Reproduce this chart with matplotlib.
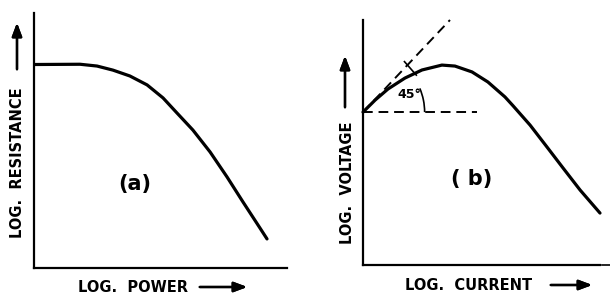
import matplotlib.pyplot as plt
from matplotlib.patches import Arc

# curve (a): log power vs log resistance (axis units 0-10)
pow_x = [0, 1.82, 2.49, 3.12, 3.79, 4.47, 5.1, 5.65, 6.28, 6.96, 7.63, 8.26, 8.93, 9.21]
res_y = [7.98, 7.99, 7.92, 7.76, 7.53, 7.18, 6.67, 6.08, 5.41, 4.55, 3.57, 2.59, 1.57, 1.14]

# curve (b): log current vs log voltage
cur_x = [0, 0.51, 1.05, 1.77, 2.49, 3.33, 3.88, 4.6, 5.27, 5.99, 6.33, 7.05, 7.76, 8.44, 9.16, 10.0]
volt_y = [6.24, 6.73, 7.18, 7.63, 7.96, 8.16, 8.12, 7.88, 7.47, 6.86, 6.5, 5.71, 4.82, 3.96, 3.06, 2.12]

# 45 degree tangent and horizontal reference (dashed)
tan_x = [0, 3.67]
tan_y = [6.24, 10.0]
hor_x = [0, 4.8]
hor_y = [6.24, 6.24]

W, H = 610, 293
fig = plt.figure(figsize=(6.1, 2.93), dpi=100)


def fx(x):
    return x / W


def fy(y):
    return 1 - y / H


def make_ax(l, t, r, b):
    ax = fig.add_axes([fx(l), fy(b), (r - l) / W, (b - t) / H])
    ax.set_xlim(0, 10)
    ax.set_ylim(0, 10)
    for s in ['top', 'right']:
        ax.spines[s].set_visible(False)
    for s in ['left', 'bottom']:
        ax.spines[s].set_linewidth(1.6)
    ax.set_xticks([])
    ax.set_yticks([])
    ax.patch.set_alpha(0)
    return ax


lab = dict(fontsize=10.5, fontweight='bold', color='black')
arr = dict(arrowstyle='-|>,head_length=0.8,head_width=0.3', lw=1.7, color='black')

# ---- (a)
ax1 = make_ax(34, 13, 287, 268)
ax1.plot(pow_x, res_y, color='black', lw=2.3, solid_capstyle='round', solid_joinstyle='round')
ax1.text(4.0, 3.3, '(a)', fontsize=15, fontweight='bold', ha='center', va='center')
fig.text(fx(78), fy(287), 'LOG.  POWER', ha='left', va='center', **lab)
fig.text(fx(18), fy(163), 'LOG.  RESISTANCE', rotation=90, ha='center', va='center', **lab)
fig.add_artist(plt.annotate('', xy=(fx(250), fy(287)), xytext=(fx(197), fy(287)),
                            xycoords='figure fraction', arrowprops=arr))
fig.add_artist(plt.annotate('', xy=(fx(17), fy(20)), xytext=(fx(17), fy(72)),
                            xycoords='figure fraction', arrowprops=arr))

# ---- (b)
ax2 = make_ax(363, 20, 600, 265)
ax2.plot(cur_x, volt_y, color='black', lw=2.3, solid_capstyle='round', solid_joinstyle='round',
         clip_on=False)
ax2.plot(tan_x, tan_y, color='black', lw=1.4, ls=(0, (5, 3)), clip_on=False)
ax2.plot(hor_x, hor_y, color='black', lw=1.4, ls=(0, (5, 3)))
ax2.add_patch(Arc((0, 6.24), 5.2, 5.0, theta1=0, theta2=22, color='black', lw=1.2))
ax2.plot([1.75, 2.25], [8.3, 7.75], color='black', lw=1.2)
ax2.text(1.95, 6.94, '45°', fontsize=9, fontweight='bold', ha='center', va='center')
ax2.text(4.6, 3.5, '( b)', fontsize=15, fontweight='bold', ha='center', va='center')
ax2.plot([10.1, 10.5], [0, 0], color='black', lw=1.2, clip_on=False)
fig.text(fx(405), fy(285), 'LOG.  CURRENT', ha='left', va='center', **lab)
fig.text(fx(348), fy(183), 'LOG.  VOLTAGE', rotation=90, ha='center', va='center', **lab)
fig.add_artist(plt.annotate('', xy=(fx(595), fy(285)), xytext=(fx(548), fy(285)),
                            xycoords='figure fraction', arrowprops=arr))
fig.add_artist(plt.annotate('', xy=(fx(345), fy(53)), xytext=(fx(345), fy(110)),
                            xycoords='figure fraction', arrowprops=arr))

fig.savefig('out.png', dpi=100)
